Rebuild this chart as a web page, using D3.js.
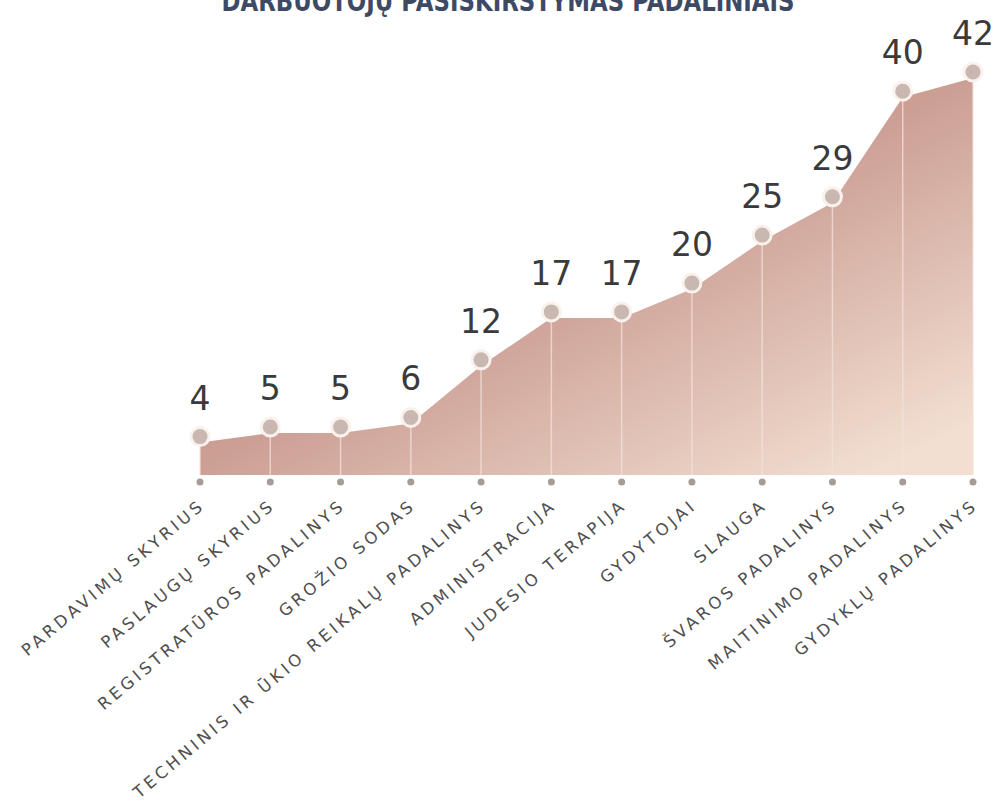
<!DOCTYPE html>
<html>
<head>
<meta charset="utf-8">
<script src="https://cdn.jsdelivr.net/npm/d3@7"></script>
<style>
  html, body { margin: 0; padding: 0; background: #ffffff; }
  svg { display: block; }
</style>
</head>
<body>
<svg id="chart" width="998" height="804"></svg>
<script>
const title = "DARBUOTOJŲ PASISKIRSTYMAS PADALINIAIS";
const categories = [
  "PARDAVIMŲ SKYRIUS",
  "PASLAUGŲ SKYRIUS",
  "REGISTRATŪROS PADALINYS",
  "GROŽIO SODAS",
  "TECHNINIS IR ŪKIO REIKALŲ PADALINYS",
  "ADMINISTRACIJA",
  "JUDESIO TERAPIJA",
  "GYDYTOJAI",
  "SLAUGA",
  "ŠVAROS PADALINYS",
  "MAITINIMO PADALINYS",
  "GYDYKLŲ PADALINYS"
];
const values = [4, 5, 5, 6, 12, 17, 17, 20, 25, 29, 40, 42];

const data = categories.map((c, i) => ({ c, v: values[i] }));

const svg = d3.select("#chart");

const x = d3.scalePoint().domain(categories).range([200, 973]);
const y = d3.scaleLinear().domain([0, 42]).range([475, 72]);

// gradient
const defs = svg.append("defs");
const grad = defs.append("linearGradient")
  .attr("id", "areaGrad")
  .attr("gradientUnits", "userSpaceOnUse")
  .attr("x1", 450).attr("y1", 60).attr("x2", 700).attr("y2", 560);
grad.append("stop").attr("offset", "0%").attr("stop-color", "#be887f");
grad.append("stop").attr("offset", "45%").attr("stop-color", "#cc9f95");
grad.append("stop").attr("offset", "100%").attr("stop-color", "#f2dfd1");

// title (cut off at top, as in the reference)
svg.append("text")
  .attr("x", 508).attr("y", 11)
  .attr("text-anchor", "middle")
  .attr("font-family", "DejaVu Sans, sans-serif")
  .attr("font-weight", "bold")
  .attr("font-size", 28)
  .attr("fill", "#3e4a64")
  .attr("textLength", 573)
  .attr("lengthAdjust", "spacingAndGlyphs")
  .text(title);

// area
const offset = 6;
const area = d3.area()
  .x(d => x(d.c))
  .y0(y(0))
  .y1(d => y(d.v) + offset)
  .curve(d3.curveLinear);

svg.append("path")
  .datum(data)
  .attr("d", area)
  .attr("fill", "url(#areaGrad)");

// vertical drop lines
svg.append("g").selectAll("line")
  .data(data)
  .join("line")
  .attr("x1", d => x(d.c)).attr("x2", d => x(d.c))
  .attr("y1", d => y(d.v)).attr("y2", y(0))
  .attr("stroke", "#f3e2da")
  .attr("stroke-opacity", 0.75)
  .attr("stroke-width", 1.5);

// tick dots
svg.append("g").selectAll("circle")
  .data(data)
  .join("circle")
  .attr("cx", d => x(d.c))
  .attr("cy", y(0) + 7)
  .attr("r", 3.5)
  .attr("fill", "#a59c98");

// points
svg.append("g").selectAll("circle")
  .data(data)
  .join("circle")
  .attr("cx", d => x(d.c))
  .attr("cy", d => y(d.v))
  .attr("r", 9)
  .attr("fill", "#c8b8b1")
  .attr("stroke", "#fbf1ec")
  .attr("stroke-width", 3);

// value labels
svg.append("g").selectAll("text")
  .data(data)
  .join("text")
  .attr("x", d => x(d.c))
  .attr("y", d => y(d.v) - 27)
  .attr("text-anchor", "middle")
  .attr("font-family", "DejaVu Sans, sans-serif")
  .attr("font-size", 33)
  .attr("fill", "#3a3a3a")
  .text(d => d.v);

// category labels
svg.append("g").selectAll("text")
  .data(data)
  .join("text")
  .attr("transform", d => `translate(${x(d.c) + 6},${y(0) + 32}) rotate(-40)`)
  .attr("text-anchor", "end")
  .attr("font-family", "DejaVu Sans, sans-serif")
  .attr("font-size", 16.5)
  .attr("letter-spacing", 3.6)
  .attr("fill", "#4e4e4e")
  .text(d => d.c);
</script>
</body>
</html>
